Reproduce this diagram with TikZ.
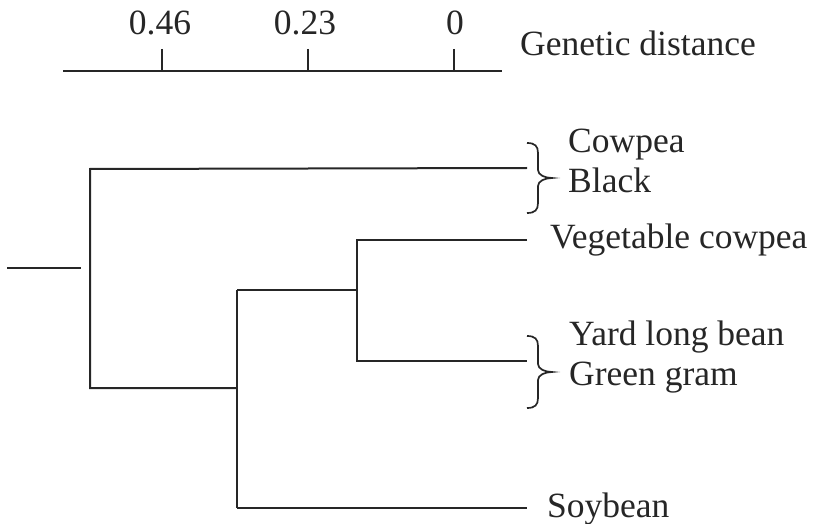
\documentclass[tikz,border=0pt]{standalone}
\usepackage{fontspec}
\setmainfont{Liberation Serif}
\begin{document}
\begin{tikzpicture}[x=1pt,y=-1pt,
  ln/.style={line width=2pt,draw=black!85},
  lbl/.style={anchor=base west,inner sep=0pt,font=\fontsize{35.5}{42}\selectfont,text=black!85},
  tk/.style={anchor=base,inner sep=0pt,font=\fontsize{35.5}{42}\selectfont,text=black!85}]
\useasboundingbox (0,0) rectangle (815,524);
% axis
\coordinate (a0) at (63,71);
\coordinate (a1) at (502,71);
\draw[ln] (a0) -- (a1);
\foreach \x/\t/\c/\n in {162/0.46/160/ta,308/0.23/305/tb,454/0/455/tc}{
  \draw[ln] (\x,49) -- (\x,71);
  \node[tk] (\n) at (\c,35) {\t};
}
\node[lbl] (gd) at (520,56) {Genetic distance};
% dendrogram coordinates
\coordinate (s0) at (7,268);
\coordinate (s1) at (81,268);
\coordinate (r1) at (90,169);
\coordinate (r2) at (90,388);
\coordinate (e1) at (527,168);
\coordinate (n1) at (237,388);
\coordinate (n1t) at (237,290);
\coordinate (n1b) at (237,508);
\coordinate (m1) at (357,290);
\coordinate (m1t) at (357,240);
\coordinate (m1b) at (357,361);
\coordinate (e2) at (527,240);
\coordinate (e3) at (527,361);
\coordinate (e4) at (527,508);
\draw[ln] (s0) -- (s1);
\draw[ln] (e1) -- (r1) -- (r2) -- (n1);
\draw[ln] (n1t) -- (n1b);
\draw[ln] (n1t) -- (m1);
\draw[ln] (e2) -- (m1t) -- (m1b) -- (e3);
\draw[ln] (n1b) -- (e4);
% braces
\draw[line width=1.7pt,draw=black!85]
  (527,143) .. controls (535,143) and (538,146) .. (538,153)
  -- (538,170) .. controls (538,175) and (545,178) .. (552,178)
  .. controls (545,178) and (538,181) .. (538,186)
  -- (538,203) .. controls (538,210) and (535,213) .. (527,213);
\draw[line width=1.7pt,draw=black!85]
  (527,336) .. controls (535,336) and (538,339) .. (538,346)
  -- (538,364) .. controls (538,369) and (545,372) .. (552,372)
  .. controls (545,372) and (538,375) .. (538,380)
  -- (538,398) .. controls (538,405) and (535,408) .. (527,408);
% labels
\node[lbl] (cp) at (568,153) {Cowpea};
\node[lbl] (bk) at (568,193) {Black};
\node[lbl] (vc) at (550,248) {Vegetable cowpea};
\node[lbl] (yl) at (569,345) {Yard long bean};
\node[lbl] (gg) at (569,385) {Green gram};
\node[lbl] (sb) at (547,517) {Soybean};
\end{tikzpicture}
\end{document}
